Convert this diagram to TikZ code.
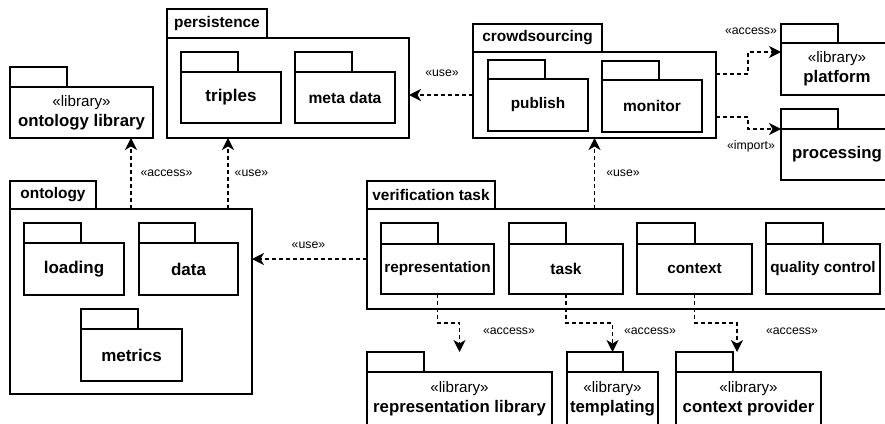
\documentclass[tikz,border=0pt]{standalone}
\usepackage{fontspec}
\setmainfont{Liberation Sans}
\usetikzlibrary{arrows.meta,calc}

% package symbol: tab node "<name>tab" and body node "<name>"
% #1 name, #2 left, #3 tab top, #4 tab right, #5 body top, #6 right, #7 bottom,
% #8 tab text, #9 body text
\newcommand\upkg[9]{%
  \node[tabbox, minimum width={#4pt-#2pt}, minimum height={#5pt-#3pt}] (#1tab) at (#2,#3) {#8};
  \node[bodybox, minimum width={#6pt-#2pt}, minimum height={#7pt-#5pt}] (#1) at (#2,#5) {#9};
}
% bold package name of a given size
\newcommand\pkgname[2]{{\bfseries\fontsize{#1}{#1}\selectfont #2}}
% library package text
\newcommand\libtext[1]{«library»\\{\bfseries\fontsize{16.8}{20}\selectfont #1}}

\tikzset{
  pkgline/.style={draw=black, line width=1.3pt},
  pkgshape/.style={pkgline, rectangle, inner sep=0pt, outer sep=0pt, anchor=north west},
  tabbox/.style={pkgshape, font=\bfseries\fontsize{15.4}{18}\selectfont},
  bodybox/.style={pkgshape, align=center, font=\fontsize{15.2}{20}\selectfont},
  dep/.style={draw=black, line width=1.3pt, dash pattern=on 4pt off 3pt,
    -{Stealth[length=12pt, width=12pt, inset=3.5pt]}},
  lbl/.style={font=\fontsize{12.3}{14}\selectfont, inner sep=0pt}
}

\begin{document}
\begin{tikzpicture}[x=1pt, y=-1pt]
\useasboundingbox (0,0) rectangle (885,423);
\clip (0,0) rectangle (885,423);

% packages
\upkg{ontlib}{10}{67}{67}{87}{153}{138}{}{\libtext{ontology library}}

\upkg{pers}{167}{9}{267}{38}{409}{138}{persistence}{}
\upkg{triples}{181}{52}{238}{72}{281}{123}{}{\pkgname{17}{triples}}
\upkg{meta}{295}{52}{352}{72}{395}{123}{}{\pkgname{15.6}{meta data}}

\upkg{cs}{473}{24}{602}{52}{716}{138}{crowdsourcing}{}
\upkg{publish}{488}{60}{545}{79}{588}{131}{}{\pkgname{15.3}{publish}}
\upkg{monitor}{602}{61}{659}{80}{702}{132}{}{\pkgname{15.5}{monitor}}

\upkg{plat}{781}{24}{838}{43}{893}{95}{}{\libtext{platform}}
\upkg{proc}{781}{109}{838}{129}{893}{180}{}{\pkgname{16.8}{processing}}

\upkg{ont}{10}{181}{96}{209}{252}{394}{ontology}{}
\upkg{loading}{24}{223}{81}{243}{124}{295}{}{\pkgname{17}{loading}}
\upkg{data}{139}{223}{195}{243}{238}{295}{}{\pkgname{17}{data}}
\upkg{metrics}{81}{309}{138}{329}{182}{381}{}{\pkgname{17}{metrics}}

\upkg{vt}{367}{181}{495}{209}{894}{309}{verification task}{}
\upkg{rep}{381}{223}{438}{244}{494}{294}{}{\pkgname{15.3}{representation}}
\upkg{task}{509}{223}{566}{244}{623}{294}{}{\pkgname{15.6}{task}}
\upkg{ctx}{637}{223}{695}{244}{752}{294}{}{\pkgname{15.3}{context}}
\upkg{qc}{766}{223}{823}{244}{880}{294}{}{\pkgname{15.3}{quality control}}

\upkg{replib}{367}{352}{424}{372}{552}{426}{}{\libtext{representation library}}
\upkg{templ}{567}{352}{623}{372}{658}{426}{}{\libtext{templating}}
\upkg{ctxlib}{676}{352}{733}{372}{821}{426}{}{\libtext{context provider}}

% connector end points
\coordinate (ontuse) at ([xshift=97pt]ont.north);
\coordinate (vtuse) at ([xshift=-36pt]vt.north);
\coordinate (csacc) at ([yshift=-22pt]cs.north east);
\coordinate (csimp) at ([yshift=-65pt]cs.north east);
\coordinate (platin) at ([yshift=-9pt]plat.north west);
\coordinate (ctxin) at ([xshift=-11.5pt]ctxlib.north |- ctxlibtab.north);

% dependencies
\draw[dep] (vt.west) -- (vt.west -| ont.east);
\draw[dep] (ont.north) -- (ont.north |- ontlib.south);
\draw[dep] (ontuse) -- (ontuse |- pers.south);
\draw[dep] (cs.west) -- (cs.west -| pers.east);
\draw[dep] (vtuse) -- (vtuse |- cs.south);
\draw[dep] (csacc) -- ++(32,0) |- (platin);
\draw[dep] (csimp) -- ++(32,0) |- (proc.north west);
\draw[dep] (rep.south) -- ++(0,29) -| (replib.north |- replibtab.north);
\draw[dep] (task.south) -- ++(0,29) -| (templ.north |- templtab.north);
\draw[dep] (ctx.south) -- ++(0,29) -| (ctxin);

% stereotype labels
\node[lbl] (l1) at (308.5,245) {«use»};
\node[lbl] (l2) at (166.5,173) {«access»};
\node[lbl] (l3) at (251.5,173) {«use»};
\node[lbl] (l4) at (442,73) {«use»};
\node[lbl] (l5) at (623,173) {«use»};
\node[lbl] (l6) at (751,31) {«access»};
\node[lbl] (l7) at (751,146) {«import»};
\node[lbl] (l8) at (509,331) {«access»};
\node[lbl] (l9) at (650,331) {«access»};
\node[lbl] (l10) at (792,331) {«access»};
\end{tikzpicture}
\end{document}
